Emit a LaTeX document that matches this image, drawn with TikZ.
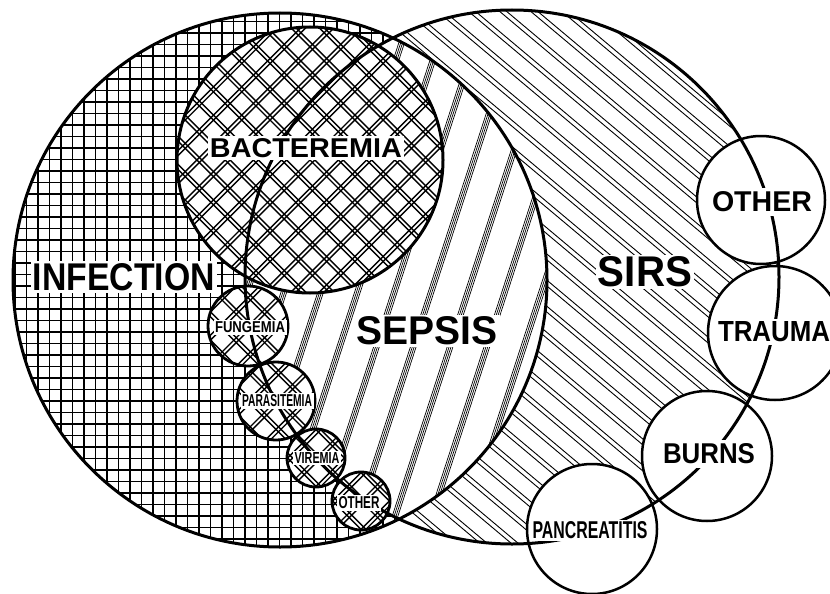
\documentclass[tikz,border=0pt]{standalone}
\usepackage{fontspec}
\setmainfont{Liberation Sans}
\usepackage{graphicx}

% squeeze a label to the size it has in the picture
\newcommand{\fitlbl}[3]{\resizebox{#1pt}{#2pt}{#3}}

\begin{document}
\begin{tikzpicture}[
    x=1pt, y=-1pt,
    rim/.style={line width=#1},
    rim/.default=3pt,
    hatch/.style={line width=#1},
    hatch/.default=1pt,
    tag/.style={fill=white, inner sep=#1, font=\bfseries},
    tag/.default=2pt,
]
    \useasboundingbox (0,0) rectangle (830,594);

    % Centres of the circles
    \coordinate (inf) at (280,280);
    \coordinate (sirs) at (512,277);
    \coordinate (bact) at (310,160);
    \coordinate (fung) at (248,326);
    \coordinate (para) at (276,401);
    \coordinate (vir) at (316,458);
    \coordinate (oth) at (361,501);
    \coordinate (othr) at (761,200);
    \coordinate (trau) at (775,333);
    \coordinate (burn) at (707,456);
    \coordinate (panc) at (592,529);

    % SIRS only — pairs of slanted lines
    \begin{scope}
        \clip (sirs) circle (267);
        \begin{scope}[shift={(sirs)}, rotate=-40]
            \foreach \k in {-15,...,15}
                \draw[hatch=0.9pt] (-300,\k*20) -- (300,\k*20)
                    (-300,\k*20+4.5) -- (300,\k*20+4.5);
        \end{scope}
    \end{scope}

    % Infection — square grid
    \begin{scope}
        \clip (inf) circle (267);
        \fill[white] (inf) circle (267);
        \foreach \k in {0,...,47}
            \draw[hatch=1.5pt] (15+\k*11.5,0) -- (15+\k*11.5,594)
                (0,10+\k*11.5) -- (830,10+\k*11.5);
        % Sepsis — bands of four lines where both circles meet
        \clip (sirs) circle (267);
        \fill[white] (sirs) circle (267);
        \begin{scope}[shift={(396,278)}, rotate=-18]
            \foreach \k in {-9,...,9}
                \foreach \d in {0,1.8,3.6,5.4}
                    \draw[hatch=0.7pt] (\k*35+\d,-320) -- (\k*35+\d,320);
        \end{scope}
    \end{scope}

    % Bacteremia and the small ones — double cross-hatch
    \foreach \c/\r in {bact/133, fung/40, para/39, vir/29, oth/29} {
        \begin{scope}
            \clip (\c) circle (\r);
            \fill[white] (\c) circle (\r);
            \begin{scope}[shift={(\c)}, rotate=45]
                \foreach \k in {-8,...,8}
                    \foreach \d in {0,3.5}
                        \draw[hatch=1.4pt] (-140,\k*20+\d) -- (140,\k*20+\d)
                            (\k*20+\d,-140) -- (\k*20+\d,140);
            \end{scope}
        \end{scope}
    }

    % Causes of SIRS — plain white circles
    \foreach \c/\r in {othr/64, trau/67, burn/65, panc/65}
        \fill[white] (\c) circle (\r);

    % Outlines
    \draw[rim] (inf) circle (267);
    \draw[rim] (sirs) circle (267);
    \draw[rim] (bact) circle (133);
    \foreach \c/\r in {fung/40, para/39, vir/29, oth/29}
        \draw[rim=2.8pt] (\c) circle (\r);
    \foreach \c/\r in {othr/64, trau/67, burn/65, panc/65}
        \draw[rim=2.5pt] (\c) circle (\r);

    % Labels
    \node[tag] (infl) at (124,277) {\fitlbl{182}{27}{INFECTION}};
    \node[tag] (bactl) at (306,148) {\fitlbl{192}{19}{BACTEREMIA}};
    \node[tag] (sirsl) at (645,272) {\fitlbl{94}{30}{SIRS}};
    \node[tag] (sepl) at (427,331) {\fitlbl{141}{28}{SEPSIS}};
    \node[tag=1.5pt] (fungl) at (250,327.5) {\fitlbl{70}{11}{FUNGEMIA}};
    \node[tag=1.5pt] (paral) at (277,401) {\fitlbl{70}{12}{PARASITEMIA}};
    \node[tag=1.5pt] (virl) at (317,457.5) {\fitlbl{45}{11}{VIREMIA}};
    \node[tag=1.5pt] (othl) at (359,503) {\fitlbl{41}{12}{OTHER}};
    \node[tag=4pt] (othrl) at (762,202) {\fitlbl{100}{20}{OTHER}};
    \node[tag=3pt] (traul) at (774,332) {\fitlbl{112}{20}{TRAUMA}};
    \node[tag=4pt] (burnl) at (709,454) {\fitlbl{92}{20}{BURNS}};
    \node[tag=2pt] (pancl) at (590,530.5) {\fitlbl{115}{17}{PANCREATITIS}};
\end{tikzpicture}
\end{document}
